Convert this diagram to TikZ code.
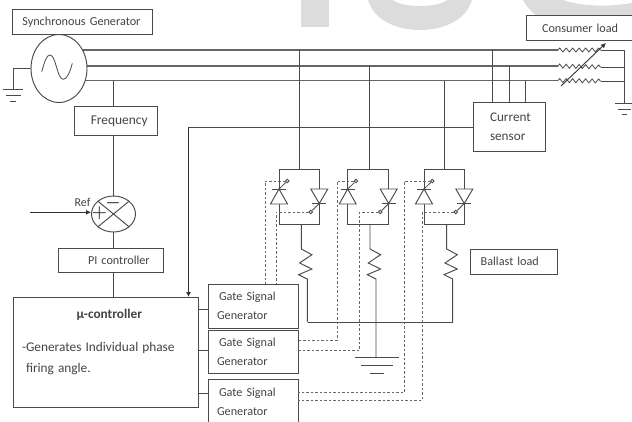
\documentclass[tikz,border=0pt]{standalone}
\usepackage{fontspec}
\setmainfont[WordSpace=0.6]{Carlito}
\usepackage{xcolor}
\usetikzlibrary{arrows.meta,shapes.geometric,decorations.pathmorphing}
\definecolor{wirecol}{HTML}{4A4A4A}
\definecolor{buscol}{HTML}{666666}
\definecolor{textcol}{HTML}{444444}
\definecolor{markcol}{HTML}{DCDCDC}
\tikzset{
  wire/.style={draw=wirecol,line width=0.95pt},
  busline/.style={draw=buscol,line width=1.6pt},
  gatesig/.style={draw=buscol,line width=0.95pt,dash pattern=on 2.5pt off 2pt},
  arr/.style={-{Latex[length=5pt,width=5pt]},draw=black!80,line width=0.9pt},
  blk/.style n args={2}{draw=wirecol,line width=0.95pt,fill=white,text=textcol,inner xsep=0pt,inner ysep=0pt,
    text width=#1,minimum height=#2,align=left,font=\fontsize{12.2}{19}\selectfont},
  summer/.style={ellipse,draw=wirecol,line width=0.95pt,fill=white,inner sep=0pt,minimum width=44pt,minimum height=36pt},
  gatept/.style={circle,draw=wirecol,line width=0.8pt,fill=white,inner sep=0pt,minimum size=3.5pt},
  lbl/.style={text=textcol,inner sep=0pt,font=\fontsize{12}{13}\selectfont},
  sign/.style={text=black!80,inner sep=0pt,font=\fontsize{17}{17}\selectfont\boldmath},
  coil/.style={wire,line width=0.8pt,decorate,decoration={zigzag,segment length=6.5pt,amplitude=2pt}},
}
\newcommand{\thyr}[4]{% name, left side x, right side x, y of feed (top wire)
  \node[draw=wirecol,line width=0.95pt,minimum width=#3pt-#2pt,minimum height=55pt,inner sep=0pt] (#1) at ({(#2+#3)/2},197) {};
  \coordinate (#1t) at ({(#2+#3)/2+0.8},#4);
  \draw[wire] (#1t) -- (#1t |- #1.north);
  \draw[wire,fill=white] ({#2-8.5},204) -- ({#2+8.5},204) -- (#2,189) -- cycle;
  \draw[wire] ({#2-7},189) -- ({#2+7},189);
  \draw[wire,fill=white] ({#3-8.5},189) -- ({#3+8.5},189) -- (#3,203.5) -- cycle;
  \draw[wire] ({#3-7},203.5) -- ({#3+7},203.5);
  \node[gatept] (#1gl) at ({#2+8.3},181) {};
  \node[gatept] (#1gr) at ({#3-8.5},212) {};
  \draw[wire,line width=0.8pt] (#2,189) -- (#1gl);
  \draw[wire,line width=0.8pt] (#3,203.5) -- (#1gr);}
\newcommand{\zig}[3]{% x, y of start, y of end
  \draw[wire] (#1,224) -- (#1,#2) -- ++(10.6,5.7) -- ++(-12.3,8.3) -- ++(12.3,6) -- ++(-13.3,5.7) -- ++(8.7,4.3) -- ++(0,{#3-#2-30});}
\newcommand{\earth}[4]{% x, y, half width, bar gap
  \draw[wire] ({#1-#3},#2) -- ({#1+#3},#2);
  \draw[wire] ({#1-0.72*#3},{#2+#4}) -- ({#1+0.72*#3},{#2+#4});
  \draw[wire] ({#1-0.3*#3},{#2+2*#4}) -- ({#1+0.3*#3},{#2+2*#4});}

\begin{document}
\begin{tikzpicture}[x=1pt,y=-1pt]
  \clip (0,0) rectangle (632,421);
  % background mark
  \fill[markcol] (300.7,0) rectangle (329,27);
  \fill[markcol] (368,0) .. controls (374,20) and (396,30) .. (420,30) .. controls (444,30) and (466,20) .. (472,0)
    -- (447,0) .. controls (442,4) and (432,6) .. (420,6) .. controls (408,6) and (398,4) .. (393,0) -- cycle;
  \fill[markcol] (523,0) .. controls (527,8) and (533,13) .. (541,20) -- (632,20) -- (632,3)
    .. controls (620,5) and (606,6) .. (597,5.5) .. controls (583,5) and (572,3) .. (563,0) -- cycle;
  % three phase lines
  \coordinate (bus1a) at (82,50);
  \coordinate (bus1b) at (558,50);
  \coordinate (bus2a) at (87,66);
  \coordinate (bus2b) at (558,66);
  \coordinate (bus3a) at (84,80.5);
  \coordinate (bus3b) at (558,80.5);
  \coordinate (res1) at (601,50);
  \coordinate (res2) at (601,67);
  \coordinate (res3) at (601,81);
  \coordinate (star1) at (624,50);
  \coordinate (star2) at (624,67);
  \coordinate (star3) at (624,81);
  \coordinate (gndr) at (624,103.5);
  \draw[busline] (bus1a) -- (bus1b);
  \draw[busline] (bus2a) -- (bus2b);
  \draw[busline] (bus3a) -- (bus3b);
  \draw[coil] (bus1b) -- (res1);
  \draw[coil] (bus2b) -- (res2);
  \draw[coil] (bus3b) -- (res3);
  \draw[wire] (res1) -- (star1) -- (gndr);
  \draw[wire] (res2) -- (star2);
  \draw[wire] (res3) -- (star3);
  \earth{624.5}{103.5}{9.5}{5.7}
  \coordinate (vara) at (561,86);
  \coordinate (varb) at (606,43);
  % boxes
  \node[blk={140pt}{24.5pt}] (syngen) at (82.8,21.8) {\hspace*{9.5pt}Synchronous Generator};
  \node[blk={106pt}{24.7pt}] (conload) at (579,28.3) {\hspace*{16pt}Consumer load};
  \draw[arr] (vara) -- (varb);
  \node[ellipse,draw=wirecol,line width=0.95pt,fill=white,minimum width=56pt,minimum height=68pt,inner sep=0pt] (gen) at (59,68.5) {};
  \node[blk={82.5pt}{28.5pt}] (freq) at (116,121) {\hspace*{16pt}\fontsize{13.4}{19}\selectfont Frequency};
  \node[summer] (sumx) at (113.5,214) {};
  \node[blk={105pt}{24pt}] (pic) at (110.5,260) {\hspace*{30pt}PI controller};
  \node[blk={185pt}{110pt}] (mu) at (105.5,352) {\fontsize{13.3}{19}\selectfont\hspace*{63.5pt}\textbf{µ-controller}\\[14pt]\hspace*{9pt}-Generates Individual phase\\[2pt]\hspace*{13pt}firing angle.\\[3pt]\mbox{}};
  \node[blk={90pt}{44pt}] (gsg1) at (253,306) {\hspace*{11pt}Gate Signal\\\hspace*{9pt}Generator};
  \node[blk={90pt}{43pt}] (gsg2) at (253,351.5) {\hspace*{11pt}Gate Signal\\\hspace*{9pt}Generator};
  \node[blk={90pt}{46pt}] (gsg3) at (253,402) {\hspace*{11pt}Gate Signal\\\hspace*{9pt}Generator};
  \node[blk={72pt}{48.5pt}] (cursen) at (509,127.2) {\fontsize{13.2}{19}\selectfont\hspace*{17pt}Current\\\hspace*{17pt}sensor};
  \node[blk={87pt}{25pt}] (ballast) at (514.2,261.8) {\hspace*{10pt}Ballast load};
  % generator
  \draw[wire,line width=0.8pt] (41.7,71.7) .. controls (45,60) and (47,55) .. (50,55) .. controls (56,55) and (57,79.3) .. (63.3,79.3) .. controls (67,79.3) and (70,72) .. (72.3,63.3);
  \coordinate (gndl) at (13.3,89.7);
  \draw[wire] (gen.west) -| (gndl);
  \earth{13.3}{89.7}{10}{5.7}
  % feedback path
  \coordinate (fq) at (113,80.5);
  \draw[wire] (fq) -- (fq |- freq.north);
  \draw[wire] (sumx |- freq.south) -- (sumx.north);
  \draw[wire] (sumx.south) -- (sumx |- pic.north);
  \draw[wire] (sumx |- pic.south) -- (sumx |- mu.north);
  \draw[wire] (sumx.north west) -- (sumx.south east);
  \draw[wire] (sumx.north east) -- (sumx.south west);
  \node[sign] (minus) at (113,203) {$-$};
  \node[sign] (plus) at (99.5,213) {$+$};
  \node[lbl] (reflbl) at (82.5,202) {Ref};
  \coordinate (refin) at (30,212.3);
  \draw[arr] (refin) -- (refin -| sumx.west);
  % current sensor
  \foreach \px/\py in {492/50,509/66,525/80.5}{
    \coordinate (tap) at (\px,\py);
    \draw[wire] (tap) -- (tap |- cursen.north);
  }
  \coordinate (muin) at (188.5,297);
  \coordinate (muelb) at (188.5,127.2);
  \draw[wire] (cursen.west) -- (muelb);
  \draw[arr] (muelb) -- (muin);
  % thyristor pairs
  \thyr{pa}{279}{319.3}{50}
  \thyr{pb}{347.7}{388.7}{66}
  \thyr{pc}{424}{464.3}{80.5}
  % ballast resistors and neutral
  \zig{301.3}{249}{322}
  \zig{370}{249}{357}
  \zig{446.7}{249}{322}
  \coordinate (nl) at (308,322);
  \coordinate (nr) at (453.4,322);
  \draw[wire] (nl) -- (nr);
  \earth{377}{357}{22}{8}
  % controller to gate generators
  \foreach \gy/\gg in {309/gsg1,350/gsg2,393/gsg3}{
    \coordinate (gc) at (208,\gy);
    \draw[wire] (gc) -- (gc -| mu.east);
  }
  % gate signals
  \coordinate (sa1) at (265,284);
  \coordinate (sa2) at (276,284);
  \coordinate (sb1) at (298,340);
  \coordinate (sb2) at (298,350.7);
  \coordinate (sc1) at (298,392.7);
  \coordinate (sc2) at (298,400);
  \draw[gatesig] (pagl) -| (sa1);
  \draw[gatesig] (pagr) -| (sa2);
  \draw[gatesig] (pbgl) -| (337,340) -- (sb1);
  \draw[gatesig] (pbgr) -| (359.3,350.7) -- (sb2);
  \draw[gatesig] (pcgl) -| (404.5,392.7) -- (sc1);
  \draw[gatesig] (pcgr) -| (422.3,400) -- (sc2);
\end{tikzpicture}
\end{document}
